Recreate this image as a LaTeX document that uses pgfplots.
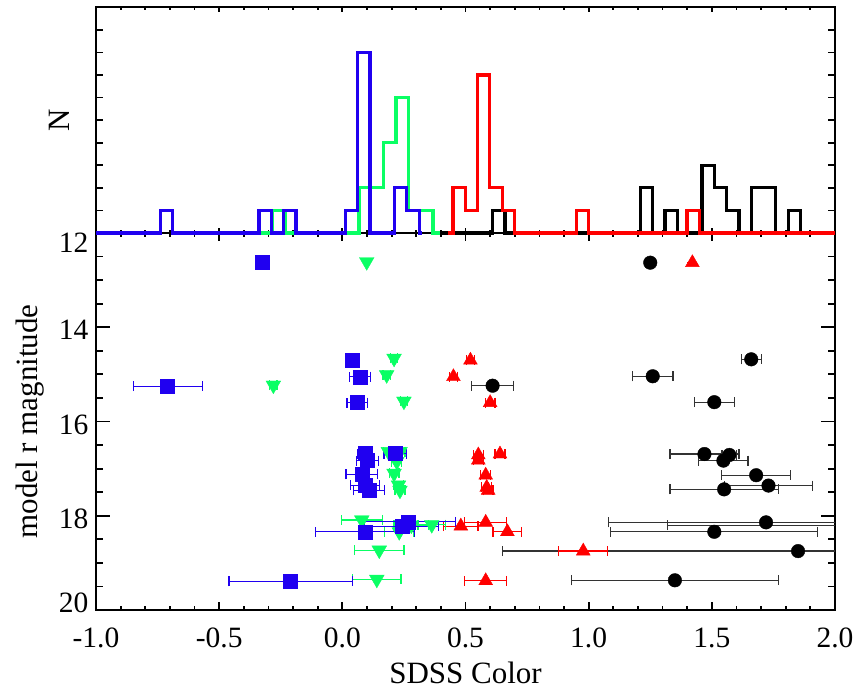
\documentclass[border=0pt]{standalone}
\usepackage{pgfplots}
\pgfplotsset{compat=1.18}
\usepackage{pgfplotstable}
\usepackage{fontspec}
\setmainfont{Liberation Serif}
\definecolor{cblue}{RGB}{32,0,240}
\definecolor{cgreen}{RGB}{10,255,100}
\definecolor{cred}{RGB}{255,0,0}

\pgfplotstableread{
x y ex
1.25 12.63 0
1.66 14.68 0.04
1.26 15.04 0.082
0.61 15.24 0.085
1.51 15.59 0.081
1.47 16.69 0.14
1.571 16.71 0.03
1.547 16.83 0.10
1.68 17.14 0.14
1.73 17.36 0.18
1.55 17.44 0.22
1.72 18.14 0.64
1.51 18.34 0.42
1.85 18.75 1.20
1.35 19.37 0.42
}\blackdata
\pgfplotstableread{
x y ex
1.72 18.20 0.40
}\blackextra
\pgfplotstableread{
x y ex
1.421 12.63 0
0.520 14.70 0.015
0.451 15.05 0.015
0.600 15.60 0.02
0.552 16.71 0.02
0.552 16.82 0.02
0.640 16.69 0.02
0.582 17.14 0.02
0.586 17.40 0.02
0.592 17.46 0.02
0.481 18.22 0.07
0.582 18.14 0.085
0.670 18.34 0.058
0.978 18.75 0.10
0.582 19.38 0.086
}\reddata
\pgfplotstableread{
x y ex
0.099 12.61 0
0.210 14.66 0.015
0.180 15.01 0.015
-0.280 15.23 0.015
0.250 15.57 0.015
0.187 16.64 0.02
0.234 16.64 0.02
0.221 16.85 0.02
0.210 17.10 0.02
0.228 17.35 0.02
0.234 17.46 0.02
0.079 18.09 0.084
0.231 18.34 0.06
0.363 18.19 0.056
0.280 18.20 0.07
0.150 18.73 0.10
0.140 19.35 0.098
}\greendata
\pgfplotstableread{
x y ex
-0.327 12.63 0
0.042 14.70 0.01
0.072 15.05 0.042
-0.709 15.25 0.14
0.061 15.60 0.042
0.092 16.68 0.03
0.102 16.83 0.044
0.215 16.68 0.046
0.079 17.12 0.064
0.092 17.35 0.06
0.108 17.46 0.063
0.092 18.34 0.20
0.241 18.22 0.15
0.269 18.13 0.19
-0.210 19.39 0.25
}\bluedata

\pgfplotsset{
 common/.style={
  scale only axis, width=739bp, xmin=-1, xmax=2,
  xtick={-1,-0.5,0,0.5,1,1.5,2},
  minor x tick num=4,
  tick align=inside,
  axis line style={line width=2bp},
  tick style={line width=1.8bp, black},
  tick label style={font=\fontsize{29.5bp}{34bp}\selectfont},
  label style={font=\fontsize{31bp}{36bp}\selectfont},
 },
 ebar/.style={error bars/.cd, x dir=both, x explicit, error mark=|,
   error bar style={line width=1.2bp, #1},
   error mark options={line width=1.2bp, #1, mark size=5bp}},
}

\begin{document}
\begin{tikzpicture}
\useasboundingbox (0,0) rectangle (856bp,690bp);
\begin{axis}[common, at={(96bp,80bp)}, anchor=south west, height=377bp,
 ymin=12, ymax=20, y dir=reverse, ytick={12,14,16,18,20}, minor y tick num=3,
 yticklabels={\raisebox{-7bp}[\height][\depth]{12},14,16,18,\raisebox{10bp}[\height][\depth]{20}},
 xticklabels={-1.0,-0.5,0.0,0.5,1.0,1.5,2.0},
 major tick length=14bp, minor tick length=7bp,
 xtick style={/pgfplots/major tick length=8bp,/pgfplots/minor tick length=4bp},
 xticklabel style={yshift=-14bp}, yticklabel style={xshift=-4bp, yshift=-3bp},
 xlabel={SDSS Color}, ylabel={model r magnitude},
 xlabel style={at={(axis description cs:0.5,-0.194)}, anchor=base},
 ylabel style={at={(axis description cs:-0.089,0.5)}, anchor=center},
]
\addplot[only marks, mark=*, mark size=6.8bp, black, ebar=black!80] table[x=x,y=y,x error=ex]{\blackdata};
\addplot[only marks, mark=none, ebar=black!80] table[x=x,y=y,x error=ex]{\blackextra};
\addplot[only marks, mark=triangle*, mark size=8bp, cred, ebar=cred] table[x=x,y=y,x error=ex]{\reddata};
\addplot[only marks, mark=triangle*, mark size=8.5bp, mark options={rotate=180}, cgreen, ebar=cgreen] table[x=x,y=y,x error=ex]{\greendata};
\addplot[only marks, mark=square*, mark size=7bp, cblue, ebar=cblue] table[x=x,y=y,x error=ex]{\bluedata};
\end{axis}
\begin{axis}[common, at={(96bp,457bp)}, anchor=south west, height=225.7bp,
 ymin=0, ymax=10, ytick={0,1,2,3,4,5,6,7,8,9,10}, yticklabels={}, xticklabels={},
 major tick length=7bp, minor tick length=3bp,
 xtick style={/pgfplots/major tick length=5bp,/pgfplots/minor tick length=3bp},
 ylabel={N}, ylabel style={at={(axis description cs:-0.049,0.5)}, anchor=center},
 clip=false]
\addplot[const plot, line width=3.2bp, black] coordinates {(0.36,0) (0.61,1) (0.66,0) (1.21,2) (1.26,0) (1.31,1) (1.36,0) (1.46,3) (1.51,2) (1.56,1) (1.61,0) (1.66,2) (1.76,0) (1.81,1) (1.86,0) (2.0,0)};
\addplot[const plot, line width=3.2bp, cred] coordinates {(0.43,0) (0.449,2) (0.499,1) (0.549,7) (0.599,2) (0.649,1) (0.699,0) (0.949,1) (0.999,0) (1.399,1) (1.449,0) (2.0,0)};
\addplot[const plot, line width=3.2bp, cgreen] coordinates {(-0.35,0) (-0.282,1) (-0.232,0) (0.068,2) (0.168,4) (0.218,6) (0.268,1) (0.368,0) (0.395,0)};
\addplot[const plot, line width=3.2bp, cblue] coordinates {(-1,0) (-0.738,1) (-0.688,0) (-0.338,1) (-0.288,0) (-0.238,1) (-0.188,0) (0.012,1) (0.062,8) (0.112,0) (0.212,2) (0.262,1) (0.312,0) (0.325,0)};
\end{axis}
\end{tikzpicture}
\end{document}
